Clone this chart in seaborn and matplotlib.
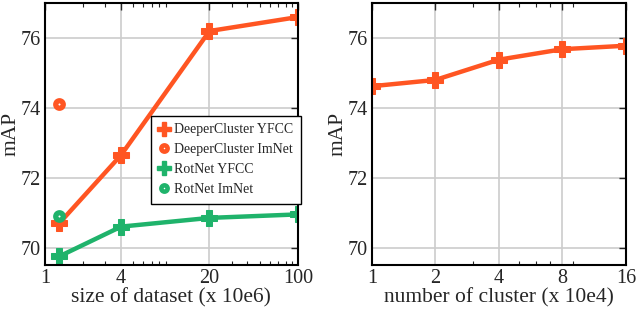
import matplotlib
matplotlib.use("Agg")
import matplotlib.pyplot as plt
import seaborn as sns
import pandas as pd
from matplotlib.lines import Line2D
from matplotlib.ticker import FixedLocator, NullFormatter, LogLocator

# data
dataset_size = [1.3, 4, 20, 100]
deeper_yfcc = [70.7, 72.65, 76.2, 76.6]
rotnet_yfcc = [69.75, 70.6, 70.85, 70.95]
imnet_size = [1.3]
deeper_imnet = [74.1]
rotnet_imnet = [70.9]
size_ticks = [1, 4, 20, 100]

n_clusters = [1, 2, 4, 8, 16]
cluster_map = [74.62, 74.8, 75.38, 75.68, 75.78]
cluster_ticks = [1, 2, 4, 8, 16]

ORANGE = "#ff5522"
GREEN = "#1fb36b"

sns.set_style("white")
plt.rcParams['font.family'] = ['Liberation Serif', 'DejaVu Serif']

fig = plt.figure(figsize=(6.4, 3.1), dpi=100)
ax1 = fig.add_axes([0.0703, 0.145, 0.395, 0.845])
ax2 = fig.add_axes([0.581, 0.145, 0.397, 0.845])

lw = 3.2
ms = 12

df1 = pd.DataFrame({"x": dataset_size, "y": deeper_yfcc})
df2 = pd.DataFrame({"x": dataset_size, "y": rotnet_yfcc})
sns.lineplot(data=df2, x="x", y="y", ax=ax1, color=GREEN, lw=lw, marker="P",
             ms=ms, mec=GREEN, zorder=3)
sns.lineplot(data=df1, x="x", y="y", ax=ax1, color=ORANGE, lw=lw, marker="P",
             ms=ms, mec=ORANGE, zorder=3)
sns.lineplot(x=imnet_size, y=deeper_imnet, ax=ax1, color=ORANGE, lw=0,
             marker="o", ms=5.4, mfc="white", mec=ORANGE, mew=3.8, zorder=4)
sns.lineplot(x=imnet_size, y=rotnet_imnet, ax=ax1, color=GREEN, lw=0,
             marker="o", ms=5.4, mfc="white", mec=GREEN, mew=3.8, zorder=4)

df3 = pd.DataFrame({"x": n_clusters, "y": cluster_map})
sns.lineplot(data=df3, x="x", y="y", ax=ax2, color=ORANGE, lw=lw, marker="P",
             ms=ms, mec=ORANGE, zorder=3)

for ax, ticks, xl, lims in [(ax1, size_ticks, "size of dataset (x 10e6)", (1, 100)),
                            (ax2, cluster_ticks, "number of cluster (x 10e4)", (1, 16))]:
    ax.set_xscale("log")
    ax.set_xlim(*lims)
    ax.set_ylim(69.5, 77)
    ax.xaxis.set_major_locator(FixedLocator(ticks))
    ax.set_xticklabels([str(t) for t in ticks])
    ax.xaxis.set_minor_locator(LogLocator(base=10, subs=range(2, 10)))
    ax.xaxis.set_minor_formatter(NullFormatter())
    ax.set_yticks([70, 72, 74, 76])
    ax.grid(True, which="major", color="#cccccc", lw=1.2)
    ax.set_axisbelow(True)
    for s in ax.spines.values():
        s.set_color("black")
        s.set_linewidth(1.5)
        s.set_zorder(5)
    ax.tick_params(which="major", direction="in", length=5, width=1,
                   top=True, right=True, labelsize=14.5, pad=3)
    ax.tick_params(which="minor", direction="in", length=3, width=0.8,
                   top=True, bottom=True)
    ax.set_xlabel(xl, fontsize=15.5, labelpad=0)
    ax.set_ylabel("mAP", fontsize=15.5, labelpad=0)
    for line in ax.get_lines():
        line.set_clip_on(True)

handles = [
    Line2D([], [], ls="none", marker="P", ms=10, color=ORANGE, mec=ORANGE),
    Line2D([], [], ls="none", marker="o", ms=4.5, mfc="white", mec=ORANGE, mew=3.3),
    Line2D([], [], ls="none", marker="P", ms=10, color=GREEN, mec=GREEN),
    Line2D([], [], ls="none", marker="o", ms=4.5, mfc="white", mec=GREEN, mew=3.3),
]
labels = ["DeeperCluster YFCC", "DeeperCluster ImNet", "RotNet YFCC", "RotNet ImNet"]
leg = ax1.legend(handles, labels, loc="upper left", bbox_to_anchor=(0.42, 0.57),
                 fontsize=10, frameon=True, fancybox=False, edgecolor="black",
                 handlelength=0.8, handletextpad=0.3, borderpad=0.55,
                 labelspacing=0.5, borderaxespad=0)
leg.get_frame().set_linewidth(1.0)
leg.get_frame().set_alpha(1)

fig.savefig("out.png", dpi=100)
